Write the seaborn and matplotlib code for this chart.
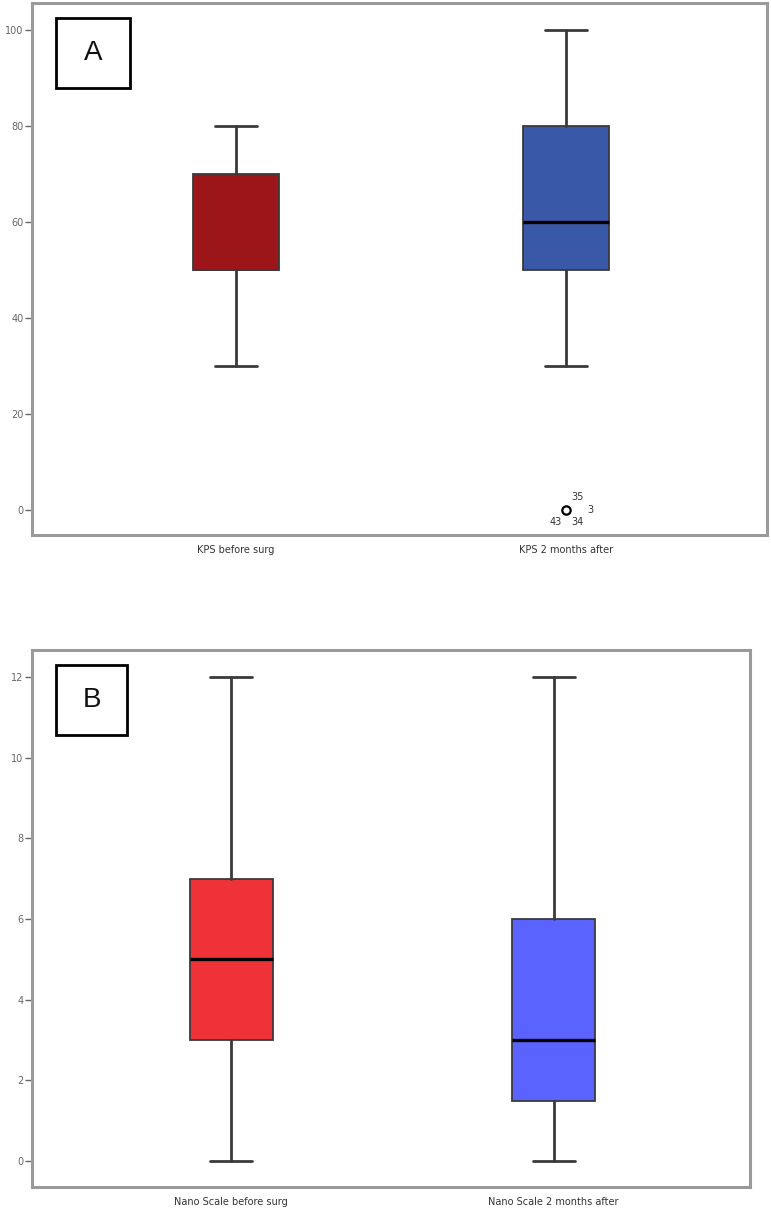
import matplotlib
matplotlib.use("Agg")
import matplotlib.pyplot as plt
import seaborn as sns
from matplotlib.patches import Rectangle

sns.set_style("white")

# panel A: KPS
kps_labels = ["KPS before surg", "KPS 2 months after"]
kps_whislo = [30, 30]
kps_q1 = [50, 50]
kps_med = [50, 60]
kps_q3 = [70, 80]
kps_whishi = [80, 100]
kps_fliers = [[], [0]]
kps_colors = ["#9c1519", "#3a58a8"]
kps_flier_ids = ["35", "3", "34", "43"]

# panel B: Nano Scale
nano_labels = ["Nano Scale before surg", "Nano Scale 2 months after"]
nano_whislo = [0, 0]
nano_q1 = [3, 1.5]
nano_med = [5, 3]
nano_q3 = [7, 6]
nano_whishi = [12, 12]
nano_fliers = [[], []]
nano_colors = ["#ee3238", "#5a62ff"]

fig = plt.figure(figsize=(7.71, 12.12), dpi=100)
ax_a = fig.add_axes([0.0415, 0.5586, 0.9533, 0.4389])
ax_b = fig.add_axes([0.0415, 0.0206, 0.9313, 0.4431])


def draw_panel(ax, labels, lo, q1, med, q3, hi, fliers, colors, letter):
    stats = []
    for i in range(len(labels)):
        stats.append(dict(label=labels[i], whislo=lo[i], q1=q1[i], med=med[i],
                          q3=q3[i], whishi=hi[i], fliers=fliers[i]))
    bp = ax.bxp(stats, positions=range(len(labels)), widths=0.258,
                patch_artist=True, showfliers=True,
                boxprops=dict(edgecolor="#3a3a3a", linewidth=1.3),
                medianprops=dict(color="black", linewidth=2.4),
                whiskerprops=dict(color="#3a3a3a", linewidth=2),
                capprops=dict(color="#3a3a3a", linewidth=2),
                capwidths=0.13,
                flierprops=dict(marker="o", markersize=6, markerfacecolor="white",
                                markeredgecolor="black", markeredgewidth=1.6))
    for patch, c in zip(bp["boxes"], colors):
        patch.set_facecolor(c)
    # a median sitting on the quartile is hidden in the box edge
    for line, m, a in zip(bp["medians"], med, q1):
        if m == a:
            line.set_color("#3a3a3a")
            line.set_linewidth(1.3)
    ax.set_xlim(-0.618, 1.609)
    ax.set_xticks(range(len(labels)))
    ax.set_xticklabels(labels, fontsize=7, color="#333333")
    ax.tick_params(axis="x", length=5, width=1, color="#555555", pad=2)
    ax.tick_params(axis="y", length=5, width=1, color="#666666", pad=1,
                   labelsize=7, labelcolor="#666666", left=True)
    for s in ax.spines.values():
        s.set_color("#9a9a9a")
        s.set_linewidth(2.2)
    ax.add_patch(Rectangle((0.033, 0.841), 0.1, 0.131, transform=ax.transAxes,
                           fill=False, edgecolor="black", linewidth=2, zorder=5))
    ax.text(0.083, 0.906, letter, transform=ax.transAxes, ha="center", va="center",
            fontsize=20, family="Liberation Sans", color="#111111")


draw_panel(ax_a, kps_labels, kps_whislo, kps_q1, kps_med, kps_q3, kps_whishi,
           kps_fliers, kps_colors, "A")
ax_a.set_ylim(-5.2, 105.6)
ax_a.set_yticks([0, 20, 40, 60, 80, 100])

# case numbers around the outlier
offsets = [(0.035, 2.8), (0.075, 0.0), (0.035, -2.6), (-0.03, -2.6)]
for lab, (dx, dy) in zip(kps_flier_ids, offsets):
    ax_a.text(1 + dx, 0 + dy, lab, fontsize=7, color="#333333",
              ha="center", va="center")

draw_panel(ax_b, nano_labels, nano_whislo, nano_q1, nano_med, nano_q3, nano_whishi,
           nano_fliers, nano_colors, "B")
ax_b.set_ylim(-0.645, 12.67)
ax_b.set_yticks([0, 2, 4, 6, 8, 10, 12])

fig.savefig("out.png", dpi=100)
